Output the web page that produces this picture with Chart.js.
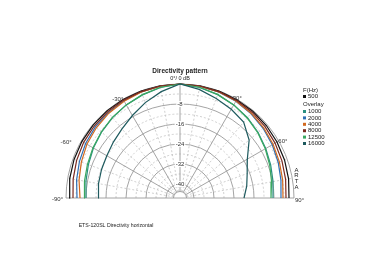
<!DOCTYPE html>
<html><head><meta charset="utf-8">
<script src="https://cdn.jsdelivr.net/npm/chart.js@4"></script>
<style>html,body{margin:0;padding:0;background:#fff}canvas{display:block}</style>
</head><body>
<canvas id="c" width="380" height="272" style="width:380px;height:272px"></canvas>
<script>
// ---- data ----
const angles = [-90,-80,-70,-60,-50,-40,-30,-20,-10,0,10,20,30,40,50,60,70,80,90];
const freqLabels = ['500','1000','2000','4000','8000','12500','16000'];
const db500   = [-1.2,-0.8,-0.5,-0.3,-0.2,-0.1,-0.1,-0.1,0,0, 0,-0.1,-0.2,-0.3,-0.5,-0.8,-1.1,-1.5,-2.0];
const db1000  = [-8.0,-7.4,-6.6,-5.6,-4.6,-3.6,-2.6,-1.7,-0.7,0, -0.7,-1.6,-2.6,-3.6,-4.8,-6.0,-7.0,-7.8,-8.4];
const db2000  = [-4.4,-3.6,-2.8,-2.0,-1.4,-1.0,-0.7,-0.4,-0.2,0, -0.2,-0.5,-0.9,-1.5,-2.2,-3.0,-3.8,-4.6,-5.2];
const db4000  = [-5.6,-4.6,-3.6,-2.6,-1.9,-1.3,-0.9,-0.5,-0.2,0, -0.2,-0.4,-0.8,-1.3,-1.9,-2.6,-3.3,-3.9,-4.4];
const db8000  = [-2.8,-2.2,-1.6,-1.1,-0.8,-0.6,-0.4,-0.3,-0.1,0, -0.1,-0.3,-0.5,-0.8,-1.2,-1.7,-2.2,-2.7,-3.2];
const db12500 = [-7.2,-6.8,-6.2,-5.4,-4.5,-3.5,-2.6,-1.6,-0.6,0, -0.6,-1.5,-2.6,-3.8,-5.0,-6.2,-7.4,-8.4,-9.2];
const db16000 = [-12.8,-12.5,-12.2,-11.8,-10.8,-9.5,-7.5,-5.0,-2.4,0, -1.5,-3.2,-4.6,-6.0,-9.5,-14.5,-17.0,-18.5,-20.0];
const ringValues = [0,-8,-16,-24,-32,-40];
const ringLabels = ['-8','-16','-24','-32','-40'];
const dashedRings = [-4,-12,-20,-28,-36];
const innerRing = -43;
const angleTicks = [-90,-60,-30,30,60,90];
const angleLabels = ['-90°','-60°','-30°','30°','60°','90°'];
const colors = ['#111111','#2a8f80','#2f6fb5','#d2691e','#7a2a20','#3aa860','#1e5a5e'];

// ---- helpers ----
const R0 = 45.6; // centre of the plot corresponds to -45.6 dB
const toXY = (deg, db) => {
  const u = db + R0, t = deg * Math.PI / 180;
  return {x: u * Math.sin(t), y: u * Math.cos(t)};
};
const allSeries = [db500, db1000, db2000, db4000, db8000, db12500, db16000];
const datasets = allSeries.map((s, i) => ({
  label: freqLabels[i],
  data: s.map((v, k) => toXY(angles[k], v)),
  showLine: true, pointRadius: 0, borderWidth: 1.2,
  borderColor: colors[i], backgroundColor: colors[i], tension: 0, fill: false
})).reverse();

const FONT = '"Liberation Sans", Arial, sans-serif';
// label nudges (pixels) for the angle labels
const labelShift = {'-90': [-6, 1], '-60': [-13, 3], '-30': [-4, 2], '30': [-1, 1], '60': [2, 2], '90': [3, 2]};

const gridPlugin = {
  id: 'polarGrid',
  beforeDatasetsDraw(chart) {
    const ctx = chart.ctx, xs = chart.scales.x, ys = chart.scales.y;
    const cx = xs.getPixelForValue(0), cy = ys.getPixelForValue(0);
    const pxPer = xs.getPixelForValue(1) - cx;
    ctx.save();
    ctx.strokeStyle = '#c4c4c4'; ctx.lineWidth = 0.8; ctx.setLineDash([2,2]);
    dashedRings.forEach(v => { ctx.beginPath(); ctx.arc(cx, cy, (v + R0) * pxPer, Math.PI, 2 * Math.PI); ctx.stroke(); });
    for (let a = -80; a <= 80; a += 10) {
      if (a % 30 === 0) continue;
      const p1 = toXY(a, innerRing), p2 = toXY(a, 0);
      ctx.beginPath();
      ctx.moveTo(xs.getPixelForValue(p1.x), ys.getPixelForValue(p1.y));
      ctx.lineTo(xs.getPixelForValue(p2.x), ys.getPixelForValue(p2.y));
      ctx.stroke();
    }
    ctx.setLineDash([]);
    ctx.strokeStyle = '#9a9a9a'; ctx.lineWidth = 0.9;
    ringValues.concat([innerRing]).forEach(v => { ctx.beginPath(); ctx.arc(cx, cy, (v + R0) * pxPer, Math.PI, 2 * Math.PI); ctx.stroke(); });
    [-60,-30,0,30,60].forEach(a => {
      const p1 = toXY(a, innerRing), p2 = toXY(a, 0);
      ctx.beginPath();
      ctx.moveTo(xs.getPixelForValue(p1.x), ys.getPixelForValue(p1.y));
      ctx.lineTo(xs.getPixelForValue(p2.x), ys.getPixelForValue(p2.y));
      ctx.stroke();
    });
    ctx.beginPath();
    ctx.moveTo(xs.getPixelForValue(-R0), cy); ctx.lineTo(xs.getPixelForValue(R0), cy); ctx.stroke();
    ctx.restore();
  },
  afterDatasetsDraw(chart) {
    const ctx = chart.ctx, xs = chart.scales.x, ys = chart.scales.y;
    const cx = xs.getPixelForValue(0), cy = ys.getPixelForValue(0);
    const pxPer = xs.getPixelForValue(1) - cx;
    ctx.save();
    ctx.textAlign = 'center'; ctx.textBaseline = 'middle';
    ctx.font = '6px ' + FONT;
    ringLabels.forEach((t, i) => {
      const y = cy - (ringValues[i + 1] + R0) * pxPer;
      const w = ctx.measureText(t).width + 2;
      ctx.fillStyle = '#fff'; ctx.fillRect(cx - w / 2, y - 3, w, 6);
      ctx.fillStyle = '#333'; ctx.fillText(t, cx, y);
    });
    angleTicks.forEach((a, i) => {
      const p = toXY(a, 1);
      const s = labelShift[String(a)];
      const x = xs.getPixelForValue(p.x) + s[0], y = ys.getPixelForValue(p.y) + s[1];
      ctx.fillStyle = '#333'; ctx.fillText(angleLabels[i], x, y);
    });
    ctx.restore();
  }
};

const textPlugin = {
  id: 'texts',
  afterDraw(chart) {
    const ctx = chart.ctx, xs = chart.scales.x;
    const cx = xs.getPixelForValue(0);
    ctx.save();
    ctx.fillStyle = '#222'; ctx.textBaseline = 'middle'; ctx.textAlign = 'center';
    ctx.font = 'bold 6.5px ' + FONT;
    ctx.fillText('Directivity pattern', cx, 71);
    ctx.font = '5.5px ' + FONT;
    ctx.fillText('0°/ 0 dB', cx, 78.5);
    ctx.font = '5.2px ' + FONT;
    ctx.fillText('ETS-120SL Directivity horizontal', 116, 226);
    ctx.font = '6px ' + FONT;
    ['A','R','T','A'].forEach((ch, i) => ctx.fillText(ch, 296.5, 170 + i * 5.8));
    ctx.textAlign = 'left';
    const lx = 303;
    ctx.fillText('F(Hz)', lx, 90.5);
    ctx.fillStyle = colors[0]; ctx.fillRect(lx, 95, 3, 3);
    ctx.fillStyle = '#222'; ctx.fillText(freqLabels[0], lx + 5, 96.5);
    ctx.fillText('Overlay', lx, 104.5);
    for (let i = 1; i < freqLabels.length; i++) {
      const y = 111.5 + (i - 1) * 6.4;
      ctx.fillStyle = colors[i]; ctx.fillRect(lx, y - 1.5, 3, 3);
      ctx.fillStyle = '#222'; ctx.fillText(freqLabels[i], lx + 5, y);
    }
    ctx.restore();
  }
};

new Chart(document.getElementById('c'), {
  type: 'scatter',
  data: { datasets },
  options: {
    responsive: false, animation: false, devicePixelRatio: 1,
    layout: { padding: { left: 55, right: 75, top: 73, bottom: 64 } },
    scales: {
      x: { type: 'linear', min: -50, max: 50, display: false },
      y: { type: 'linear', min: -4, max: 50, display: false }
    },
    plugins: { legend: { display: false }, tooltip: { enabled: false }, title: { display: false } }
  },
  plugins: [gridPlugin, textPlugin]
});
</script>
</body></html>
